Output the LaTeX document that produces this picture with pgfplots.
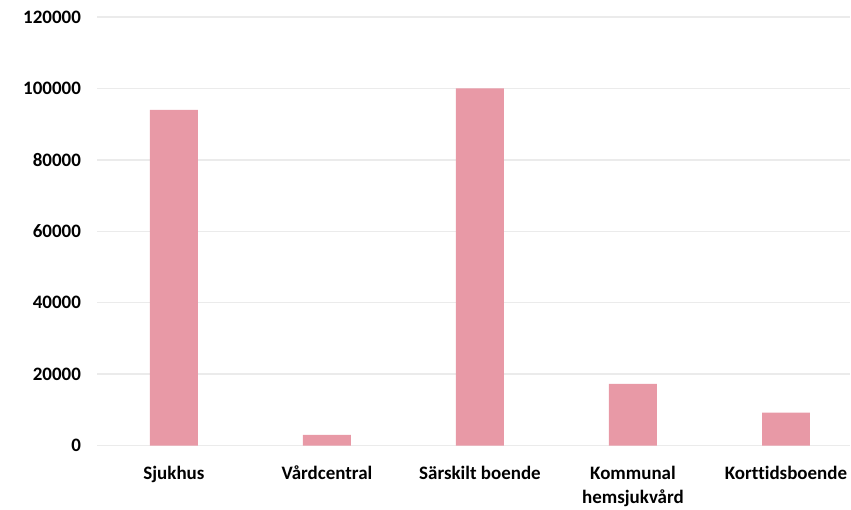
\documentclass[border=0pt]{standalone}
\usepackage{fontspec}
\setmainfont{Carlito}[Ligatures={NoCommon}]
\usepackage{pgfplots}
\pgfplotsset{compat=1.18}
\definecolor{barpink}{HTML}{E899A6}
\definecolor{gridgrey}{HTML}{EBEBEB}
\begin{document}
\begin{tikzpicture}
\begin{axis}[
  scale only axis,
  width=753.5pt, height=429pt,
  ymin=0, ymax=120000,
  ytick={0,20000,40000,60000,80000,100000,120000},
  yticklabels={0,20000,40000,60000,80000,100000,120000},
  xmin=-0.5, xmax=4.42,
  xtick={0,1,2,3,4},
  xticklabels={Sjukhus, Vårdcentral, Särskilt boende, {Kommunal\\hemsjukvård}, Korttidsboende},
  scaled y ticks=false,
  ymajorgrids,
  grid style={gridgrey, line width=1.5pt},
  axis line style={draw=none},
  major tick style={draw=none},
  tick label style={font=\bfseries\fontsize{19}{24}\selectfont, text=black},
  x tick label style={align=center, yshift=-17pt},
  y tick label style={xshift=-13pt},
  clip=false,
]
\addplot[ybar, bar width=48pt, fill=barpink, draw=none] coordinates {
  (0,94000) (1,3000) (2,100000) (3,17300) (4,9200)
};
\end{axis}
\path ([shift={(-97.5pt,-57pt)}]current axis.south west) rectangle ([shift={(0pt,17pt)}]current axis.north east);
\end{tikzpicture}
\end{document}
